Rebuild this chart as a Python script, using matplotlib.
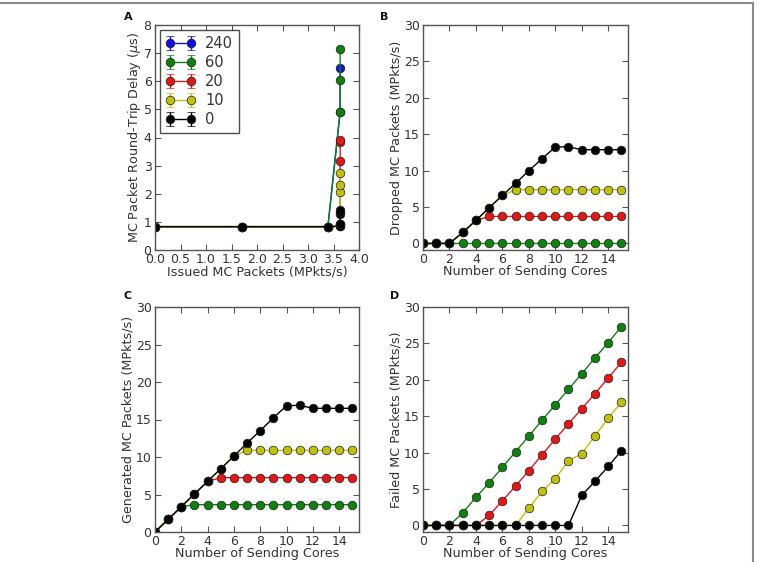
import matplotlib
matplotlib.use('Agg')
import matplotlib.pyplot as plt
from matplotlib.lines import Line2D

plt.rcParams['font.family'] = ['DejaVu Sans']
plt.rcParams['mathtext.fontset'] = 'dejavusans'

# ---------------- data ----------------
series_labels = ['240', '60', '20', '10', '0']
series_colors = ['#1010e0', '#108010', '#e01818', '#c0c010', '#000000']

# Panel A: issued packets (x) vs round-trip delay (y)
issued_240 = [0.0, 1.70, 3.39, 3.63, 3.63]
delay_240 = [0.83, 0.83, 0.83, 4.91, 6.48]
issued_60 = [0.0, 1.70, 3.39, 3.63, 3.63, 3.63]
delay_60 = [0.83, 0.83, 0.83, 4.91, 6.06, 7.16]
issued_20 = [0.0, 1.70, 3.39, 3.63, 3.63, 3.63, 3.63, 3.63]
delay_20 = [0.83, 0.83, 0.83, 0.85, 0.91, 3.18, 3.85, 3.92]
issued_10 = [0.0, 1.70, 3.39, 3.63, 3.63, 3.63, 3.63, 3.63]
delay_10 = [0.83, 0.83, 0.83, 0.85, 0.91, 2.05, 2.31, 2.75]
issued_0 = [0.0, 1.70, 3.39, 3.63, 3.63, 3.63, 3.63, 3.63]
delay_0 = [0.83, 0.83, 0.83, 0.85, 0.91, 1.27, 1.36, 1.42]
delay_err = 0.0

cores = [0, 1, 2, 3, 4, 5, 6, 7, 8, 9, 10, 11, 12, 13, 14, 15]

# Panel B: dropped packets
dropped_60 = [0, 0, 0, 0, 0, 0, 0, 0, 0, 0, 0, 0, 0, 0, 0, 0]
dropped_20 = [0, 0, 0, 1.51, 3.16, 3.71, 3.71, 3.71, 3.71, 3.71, 3.71, 3.71, 3.71, 3.71, 3.71, 3.71]
dropped_10 = [0, 0, 0, 1.51, 3.16, 4.90, 6.60, 7.37, 7.37, 7.37, 7.37, 7.37, 7.37, 7.37, 7.37, 7.37]
dropped_0 = [0, 0, 0, 1.51, 3.16, 4.90, 6.60, 8.25, 9.99, 11.63, 13.24, 13.28, 12.87, 12.87, 12.87, 12.87]

# Panel C: generated packets
generated_60 = [0, 1.69, 3.38, 3.64, 3.64, 3.64, 3.64, 3.64, 3.64, 3.64, 3.64, 3.64, 3.64, 3.64, 3.64, 3.64]
generated_20 = [0, 1.69, 3.38, 5.07, 6.76, 7.24, 7.24, 7.24, 7.24, 7.24, 7.24, 7.24, 7.24, 7.24, 7.24, 7.24]
generated_10 = [0, 1.69, 3.38, 5.07, 6.76, 8.44, 10.13, 10.89, 10.89, 10.89, 10.89, 10.89, 10.89, 10.89, 10.89, 10.89]
generated_0 = [0, 1.69, 3.38, 5.07, 6.76, 8.44, 10.13, 11.87, 13.51, 15.24, 16.84, 16.89, 16.49, 16.49, 16.49, 16.49]

# Panel D: failed packets
failed_60 = [0, 0, 0, 1.74, 3.85, 5.86, 7.97, 10.12, 12.28, 14.43, 16.58, 18.69, 20.84, 23.0, 25.1, 27.3]
failed_20 = [0, 0, 0, 0, 0, 1.37, 3.39, 5.41, 7.51, 9.71, 11.86, 13.97, 16.03, 18.09, 20.25, 22.4]
failed_10 = [0, 0, 0, 0, 0, 0, 0, 0, 2.38, 4.67, 6.41, 8.89, 9.85, 12.28, 14.75, 16.9]
failed_0 = [0, 0, 0, 0, 0, 0, 0, 0, 0, 0, 0, 0, 4.12, 6.05, 8.1, 10.26]

# ---------------- style ----------------
TEXT = '#333333'
SPINE = '#555555'
TICK_FS = 9
LABEL_FS = 9.2
MS = 6.2

fig = plt.figure(figsize=(7.7, 5.62), dpi=100)
W, H = 770.0, 562.0

def add_ax(l, t, r, b):
    return fig.add_axes([l / W, 1 - b / H, (r - l) / W, (b - t) / H])

axA = add_ax(155, 25, 359, 250)
axB = add_ax(423, 25, 628, 250)
axC = add_ax(155, 307, 359, 532)
axD = add_ax(423, 307, 628, 532)

def style(ax):
    for s in ax.spines.values():
        s.set_color(SPINE)
        s.set_linewidth(1.0)
    ax.tick_params(direction='in', top=True, right=True, length=4, width=0.8,
                   colors=SPINE, labelcolor=TEXT, labelsize=TICK_FS, pad=2.5)

# Panel A
xsA = [issued_240, issued_60, issued_20, issued_10, issued_0]
ysA = [delay_240, delay_60, delay_20, delay_10, delay_0]
for xs, ys, lab, col in zip(xsA, ysA, series_labels, series_colors):
    axA.errorbar(xs, ys, yerr=delay_err, color=col, lw=1.0, marker='o', ms=MS,
                 mfc=col, mec='#202020', mew=0.5, capsize=3, elinewidth=1.0, label=lab)
axA.set_xlim(0, 4)
axA.set_ylim(0, 8)
axA.set_xticks([0, 0.5, 1, 1.5, 2, 2.5, 3, 3.5, 4])
axA.set_yticks([0, 1, 2, 3, 4, 5, 6, 7, 8])
axA.set_xlabel('Issued MC Packets (MPkts/s)', fontsize=LABEL_FS, color=TEXT, labelpad=-1)
axA.set_ylabel(r'MC Packet Round-Trip Delay ($\mu$s)', fontsize=LABEL_FS, color=TEXT, labelpad=0.5)
leg = axA.legend(loc='upper left', bbox_to_anchor=(0, 1), borderaxespad=0.35, numpoints=2,
                 fontsize=10.5, frameon=True, fancybox=False, handlelength=2.0,
                 labelspacing=0.28, borderpad=0.4, handletextpad=0.7)
leg.get_frame().set_edgecolor('#222222')
leg.get_frame().set_linewidth(1.0)
for t in leg.get_texts():
    t.set_color(TEXT)
style(axA)

def line_panel(ax, series, ylabel, ymin):
    cols = series_colors[1:]
    for ys, col in zip(series, cols):
        ax.plot(cores, ys, color=col, lw=1.0, marker='o', ms=MS, mfc=col,
                mec='#202020', mew=0.5)
    ax.set_xlim(0, 15.5)
    ax.set_ylim(ymin, 30)
    ax.set_xticks([0, 2, 4, 6, 8, 10, 12, 14])
    ax.set_yticks([0, 5, 10, 15, 20, 25, 30])
    ax.set_xlabel('Number of Sending Cores', fontsize=LABEL_FS, color=TEXT, labelpad=-1)
    ax.set_ylabel(ylabel, fontsize=LABEL_FS, color=TEXT, labelpad=0.5)
    style(ax)

line_panel(axB, [dropped_60, dropped_20, dropped_10, dropped_0], 'Dropped MC Packets (MPkts/s)', -0.9)
line_panel(axC, [generated_60, generated_20, generated_10, generated_0], 'Generated MC Packets (MPkts/s)', 0)
line_panel(axD, [failed_60, failed_20, failed_10, failed_0], 'Failed MC Packets (MPkts/s)', -0.9)

# panel letters
for letter, x, y in [('A', 128, 17), ('B', 384, 17), ('C', 128, 296), ('D', 395, 296)]:
    fig.text(x / W, 1 - y / H, letter, fontsize=8, fontweight='bold', color='#111111',
             ha='center', va='center')

# outer frame lines (top and right)
fig.add_artist(Line2D([0, 753 / W], [1 - 3 / H, 1 - 3 / H], transform=fig.transFigure,
                      color='#8a8a8a', lw=1.5))
fig.add_artist(Line2D([753 / W, 753 / W], [1 - 3 / H, 0], transform=fig.transFigure,
                      color='#8a8a8a', lw=1.5))

fig.savefig('out.png', dpi=100, facecolor='white')
